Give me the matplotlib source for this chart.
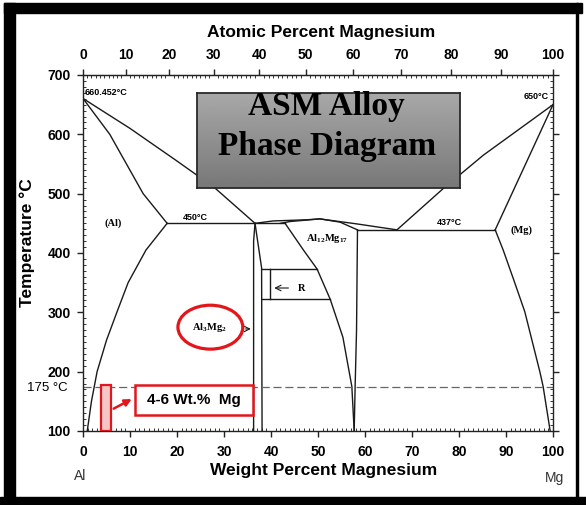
import numpy as np
import matplotlib
matplotlib.use("Agg")
import matplotlib.pyplot as plt
import matplotlib.transforms as mtransforms
from matplotlib.patches import Ellipse, Rectangle
from matplotlib.ticker import MultipleLocator

plt.rcParams['font.family'] = ['Liberation Sans', 'DejaVu Sans']
plt.rcParams['mathtext.fontset'] = 'custom'
plt.rcParams['mathtext.rm'] = 'Liberation Serif:bold'

# phase boundaries (wt% Mg, deg C)
liq_al_wt = [0, 10, 20, 28, 36.6]
liq_al_t = [660.452, 610, 555, 510, 450]
sol_al_wt = [0, 5.7, 12.8, 17.9]
sol_al_t = [660.452, 600, 500, 450]
solv_al_wt = [17.9, 13.4, 9.6, 7.2, 5.0, 3.0, 1.8, 0.9]
solv_al_t = [450, 405, 350, 300, 253, 200, 150, 100]
eut_450_wt = [17.9, 43.0]
eut_450_t = [450, 450]

beta_left_wt = [36.6, 36.3, 36.3]
beta_left_t = [450, 420, 100]
beta_right_wt = [36.6, 38.0, 38.1]
beta_right_t = [450, 375, 100]

liq_mid_wt = [36.6, 40.4, 47.6, 50.4, 58.3, 66.8]
liq_mid_t = [450, 454, 456, 457.5, 449, 439]
gamma_sol_wt = [42.0, 44.0, 47.6, 50.4, 54.7, 58.4]
gamma_sol_t = [450, 453, 455.5, 457.5, 452, 439]
gamma_left_wt = [43.0, 46.9, 49.8, 52.6, 55.3, 57.2, 57.7]
gamma_left_t = [450, 405, 373, 322, 258, 175, 100]
gamma_right_wt = [58.4, 58.2, 57.9, 57.7]
gamma_right_t = [439, 270, 175, 100]

r_top_wt = [38.1, 49.8]
r_top_t = [373, 373]
r_bot_wt = [38.1, 52.6]
r_bot_t = [322, 322]
r_side_wt = [39.8, 39.8]
r_side_t = [322, 373]

eut_437_wt = [58.4, 87.7]
eut_437_t = [439, 439]
liq_mg_wt = [66.8, 76.7, 85.2, 100]
liq_mg_t = [439, 509, 565, 650]
sol_mg_wt = [87.7, 100]
sol_mg_t = [439, 650]
solv_mg_wt = [87.7, 89.4, 91.9, 94.0, 97.2, 97.9, 99.4]
solv_mg_t = [439, 405, 349, 301, 200, 175, 100]

wt_ticks = list(range(0, 101, 10))
at_ticks = list(range(0, 101, 10))
t_ticks = list(range(100, 701, 100))
aging_t = 175

W, H = 586, 505
fig = plt.figure(figsize=(W / 100, H / 100), dpi=100)

# black frame around the slide image
frame = [(4, 3, 582, 13), (4, 3, 15, 505), (0, 497, 586, 505), (576, 3, 578, 497)]
for x0, y0, x1, y1 in frame:
    fig.patches.append(Rectangle((x0 / W, 1 - y1 / H), (x1 - x0) / W, (y1 - y0) / H,
                                 transform=fig.transFigure, color='black', zorder=0))

ax = fig.add_axes([83 / W, 1 - 431 / H, 470 / W, 356 / H])
ax.set_xlim(0, 100)
ax.set_ylim(100, 700)

lk = dict(color='#1a1a1a', lw=1.0)
for xs, ys in [(liq_al_wt, liq_al_t), (sol_al_wt, sol_al_t), (solv_al_wt, solv_al_t),
               (eut_450_wt, eut_450_t), (beta_left_wt, beta_left_t), (beta_right_wt, beta_right_t),
               (liq_mid_wt, liq_mid_t), (gamma_sol_wt, gamma_sol_t), (gamma_left_wt, gamma_left_t),
               (gamma_right_wt, gamma_right_t), (r_top_wt, r_top_t), (r_bot_wt, r_bot_t),
               (r_side_wt, r_side_t), (eut_437_wt, eut_437_t), (liq_mg_wt, liq_mg_t),
               (sol_mg_wt, sol_mg_t), (solv_mg_wt, solv_mg_t)]:
    ax.plot(xs, ys, **lk)

ax.axhline(aging_t, color='#666666', lw=0.9, dashes=(6.5, 3))

# labels inside the diagram
ax.text(0.4, 670, '660.452°C', fontsize=6.5, fontweight='bold', ha='left', va='center')
ax.text(99.2, 664, '650°C', fontsize=6.5, fontweight='bold', ha='right', va='center')
ax.text(24, 459, '450°C', fontsize=6.5, fontweight='bold', ha='center', va='center')
ax.text(78, 451, '437°C', fontsize=6.5, fontweight='bold', ha='center', va='center')
sk = dict(family='Liberation Serif', fontweight='bold', fontsize=7.5, ha='center', va='center')
ax.text(6.5, 451, '(Al)', **sk)
ax.text(93.4, 439, '(Mg)', **sk)
ax.text(52, 425, r'Al$_{12}$Mg$_{17}$', **sk)
ax.text(27, 275, r'Al$_3$Mg$_2$', **sk)
ax.text(46.6, 341, 'R', **sk)
ax.annotate('', xy=(40.1, 341), xytext=(44.3, 341),
            arrowprops=dict(arrowstyle='->', color='#1a1a1a', lw=0.8))
ax.annotate('', xy=(36.3, 272), xytext=(34.0, 272),
            arrowprops=dict(arrowstyle='->', color='#1a1a1a', lw=0.8))

# red highlights
red = '#e3161c'
ax.add_patch(Ellipse((27.1, 275), 13.8, 74, fill=False, ec=red, lw=2.3, zorder=5))
ax.add_patch(Rectangle((3.9, 100), 2.1, 78, fc='#f5c6c6', ec=red, lw=1.6, zorder=5))
ax.add_patch(Rectangle((11.1, 127), 25.1, 50.5, fc='white', ec=red, lw=1.8, zorder=5))
ax.text(23.6, 152, '4-6 Wt.%  Mg', fontsize=11, fontweight='bold', ha='center', va='center', zorder=6)
ax.annotate('', xy=(10.9, 156), xytext=(6.0, 135.5),
            arrowprops=dict(arrowstyle='-|>', color=red, lw=1.8, mutation_scale=10), zorder=6)

# axes, ticks
for s in ax.spines.values():
    s.set_color('#222222')
    s.set_linewidth(1.0)
ax.set_xticks(wt_ticks)
ax.set_xticklabels([str(v) for v in wt_ticks], fontweight='bold')
ax.set_yticks(t_ticks)
ax.set_yticklabels([str(v) for v in t_ticks], fontweight='bold')
ax.xaxis.set_minor_locator(MultipleLocator(1))
ax.yaxis.set_minor_locator(MultipleLocator(10))
ax.tick_params(which='major', direction='out', length=4, width=1, labelsize=10, pad=5,
               color='#222222', right=True)
ax.tick_params(which='minor', direction='in', length=2, width=0.7, color='#333333', right=True)
ax.tick_params(axis='x', which='major', pad=6)

def wt2at(w):
    w = np.clip(np.asarray(w, dtype=float), 0, 100)
    a = w / 24.305
    b = (100 - w) / 26.982
    return 100 * a / np.maximum(a + b, 1e-9)

def at2wt(a):
    a = np.clip(np.asarray(a, dtype=float), 0, 100)
    m = a * 24.305
    n = (100 - a) * 26.982
    return 100 * m / np.maximum(m + n, 1e-9)

sec = ax.secondary_xaxis('top', functions=(wt2at, at2wt))
sec.set_xticks(at_ticks)
sec.set_xticklabels([str(v) for v in at_ticks], fontweight='bold')
sec.xaxis.set_minor_locator(MultipleLocator(1))
sec.tick_params(which='major', direction='out', length=4, width=1, labelsize=10, pad=5, color='#222222')
sec.tick_params(which='minor', direction='in', length=2, width=0.7, color='#333333')
sec.spines['top'].set_color('#222222')

sec.set_xlabel('Atomic Percent Magnesium', fontsize=12.5, fontweight='bold', va='center')
sec.xaxis.set_label_coords((321 - 83) / 470, (431 - 32) / 356, transform=ax.transAxes)
ax.set_xlabel('Weight Percent Magnesium', fontsize=12.5, fontweight='bold', va='center')
ax.xaxis.set_label_coords((324 - 83) / 470, (431 - 471) / 356)
ax.set_ylabel('Temperature °C', fontsize=12.5, fontweight='bold', va='center')
ax.yaxis.set_label_coords((27 - 83) / 470, (431 - 243) / 356)

blend = mtransforms.blended_transform_factory(ax.transAxes, ax.transData)
ax.text(-0.032, aging_t, '175 °C', transform=blend, fontsize=9.5, ha='right', va='center_baseline')
ax.text(-0.006, -0.126, 'Al', transform=ax.transAxes, fontsize=10, color='#333333',
        ha='center', va='center')
ax.text(1.004, -0.132, 'Mg', transform=ax.transAxes, fontsize=10, color='#333333',
        ha='center', va='center')

# title box with gray gradient
bx0, by0, bx1, by1 = 197, 93, 460, 188
bax = fig.add_axes([bx0 / W, 1 - by1 / H, (bx1 - bx0) / W, (by1 - by0) / H])
grad = np.linspace(0.66, 0.47, 100)[:, None]
bax.imshow(grad, cmap='gray', vmin=0, vmax=1, aspect='auto', extent=[0, 1, 0, 1])
bax.set_xticks([])
bax.set_yticks([])
for s in bax.spines.values():
    s.set_color('#2a2a2a')
    s.set_linewidth(1.3)
tk = dict(family='Liberation Serif', fontweight='bold', fontsize=24, ha='center', va='center',
          color='black', transform=bax.transAxes)
bax.text((326 - bx0) / (bx1 - bx0), 1 - (107 - by0) / (by1 - by0), 'ASM Alloy', **tk)
bax.text((327 - bx0) / (bx1 - bx0), 1 - (146 - by0) / (by1 - by0), 'Phase Diagram', **tk)

fig.savefig('out.png', dpi=100)
